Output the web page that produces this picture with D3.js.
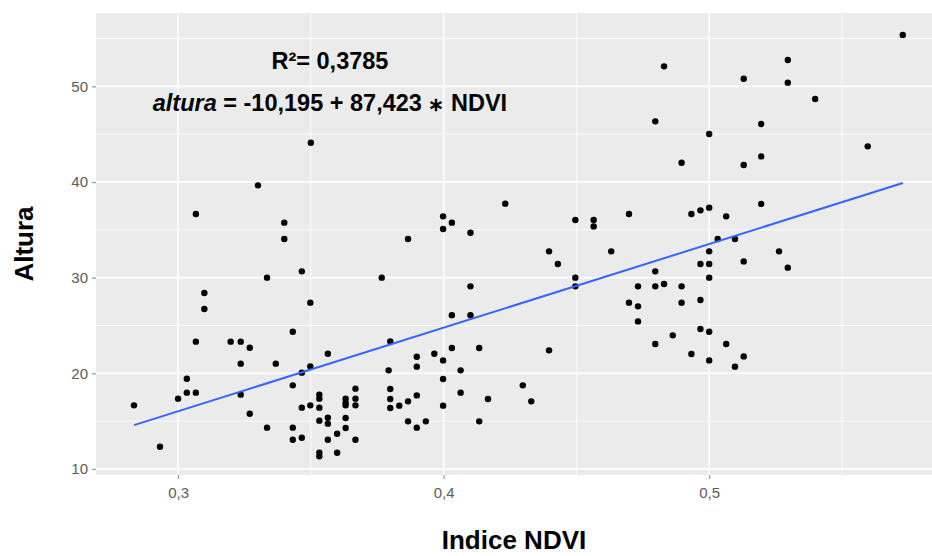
<!DOCTYPE html>
<html>
<head>
<meta charset="utf-8">
<script src="https://cdn.jsdelivr.net/npm/d3@7"></script>
<style>
  body { margin: 0; background: #fff; }
  text { font-family: 'Liberation Sans', Arial, sans-serif; }
</style>
</head>
<body>
<div id="chart"></div>
<script>
// NDVI (x) and tree height (y)
const ndvi = [
  0.2834, 0.2932, 0.3000, 0.3033, 0.3033, 0.3067, 0.3067, 0.3067, 0.3099, 0.3099,
  0.3198, 0.3236, 0.3270, 0.3236, 0.3236, 0.3270, 0.3301, 0.3335, 0.3335, 0.3368,
  0.3400, 0.3400, 0.3432, 0.3432, 0.3432, 0.3432, 0.3466, 0.3466, 0.3466, 0.3466,
  0.3500, 0.3498, 0.3498, 0.3498, 0.3532, 0.3532, 0.3532, 0.3532, 0.3532, 0.3532,
  0.3564, 0.3564, 0.3564, 0.3564, 0.3599, 0.3599, 0.3631, 0.3631, 0.3631, 0.3631,
  0.3631, 0.3668, 0.3668, 0.3668, 0.3668, 0.3793, 0.3799, 0.3799, 0.3799, 0.3799,
  0.3833, 0.3866, 0.3866, 0.3866, 0.3767, 0.3899, 0.3899, 0.3899, 0.3899, 0.3933,
  0.3965, 0.3998, 0.3998, 0.3998, 0.3998, 0.3998, 0.4031, 0.4031, 0.4031, 0.4064,
  0.4064, 0.4101, 0.4101, 0.4101, 0.4134, 0.4134, 0.4167, 0.4232, 0.4298, 0.4330,
  0.4397, 0.4397, 0.4430, 0.4496, 0.4496, 0.4496, 0.4565, 0.4565, 0.4631, 0.4698,
  0.4698, 0.4732, 0.4732, 0.4732, 0.4797, 0.4797, 0.4797, 0.4797, 0.4830, 0.4830,
  0.4863, 0.4896, 0.4896, 0.4896, 0.4933, 0.4933, 0.4967, 0.4967, 0.4967, 0.4967,
  0.5000, 0.5000, 0.5000, 0.5000, 0.5000, 0.5000, 0.5000, 0.5032, 0.5064, 0.5064,
  0.5097, 0.5097, 0.5130, 0.5130, 0.5130, 0.5130, 0.5196, 0.5196, 0.5196, 0.5263,
  0.5296, 0.5296, 0.5296, 0.5399, 0.5597, 0.5729
]
const altura = [
  16.65, 12.33, 17.35, 19.44, 17.98, 17.98, 23.31, 36.66, 28.40, 26.73,
  23.31, 23.31, 22.68, 21.01, 17.77, 15.78, 39.65, 30.00, 14.32, 21.01,
  35.75, 34.05, 24.35, 18.74, 14.32, 13.06, 30.66, 20.07, 16.41, 13.27,
  44.11, 27.39, 20.73, 16.65, 17.77, 17.35, 16.41, 15.05, 11.70, 11.32,
  22.05, 15.36, 14.74, 13.06, 13.69, 11.70, 17.35, 16.65, 15.33, 14.29,
  16.93, 18.40, 17.35, 16.65, 13.06, 20.31, 23.34, 18.36, 17.32, 16.38,
  16.62, 17.07, 14.98, 34.05, 30.00, 21.74, 20.70, 17.69, 14.32, 14.98,
  22.05, 36.41, 35.09, 21.35, 19.41, 16.62, 35.75, 26.08, 22.65, 20.31,
  17.98, 34.70, 29.09, 26.08, 22.65, 14.98, 17.32, 37.74, 18.74, 17.07,
  32.75, 22.40, 31.43, 36.03, 30.00, 29.09, 36.03, 35.36, 32.75, 36.66,
  27.39, 29.09, 27.00, 25.43, 46.34, 30.66, 29.09, 23.07, 52.09, 29.34,
  23.97, 42.02, 29.09, 27.39, 36.66, 22.02, 37.04, 31.43, 27.67, 24.64,
  45.02, 37.32, 32.75, 31.43, 30.00, 24.35, 21.35, 34.05, 36.41, 23.07,
  34.05, 20.70, 50.80, 41.78, 31.70, 21.77, 46.07, 42.68, 37.71, 32.75,
  52.76, 50.39, 31.05, 48.68, 43.73, 55.37
]

// linear fit shown in the annotation
const intercept = -10.195
const slope = 87.423

const xTicks = [0.3, 0.4, 0.5]
const xMinor = [0.25, 0.35, 0.45, 0.55]
const yTicks = [10, 20, 30, 40, 50]
const yMinor = [15, 25, 35, 45, 55]

const r2Label = 'R²= 0,3785'
const xTitle = 'Indice NDVI'
const yTitle = 'Altura'

let margin = { top: 13, left: 96, right: 0, bottom: 81 }
let width = 932 - margin.left - margin.right
let height = 556 - margin.top - margin.bottom

const svg = d3
  .select('#chart')
  .append('svg')
  .attr('width', width + margin.left + margin.right)
  .attr('height', height + margin.top + margin.bottom)

const g = svg
  .append('g')
  .attr('transform', 'translate(' + margin.left + ',' + margin.top + ')')

var xPositionScale = d3
  .scaleLinear()
  .domain([0.2691, 0.5839])
  .range([0, width])

var yPositionScale = d3
  .scaleLinear()
  .domain([9.37, 57.67])
  .range([height, 0])

const fmt = d => d3.format('.1f')(d).replace('.', ',')

// panel
g.append('rect')
  .attr('width', width)
  .attr('height', height)
  .attr('fill', '#ebebeb')

// minor grid
g.selectAll('.minor-x')
  .data(xMinor)
  .enter()
  .append('line')
  .attr('x1', d => xPositionScale(d))
  .attr('x2', d => xPositionScale(d))
  .attr('y1', 0)
  .attr('y2', height)
  .attr('stroke', '#fff')
  .attr('stroke-width', 0.8)

g.selectAll('.minor-y')
  .data(yMinor)
  .enter()
  .append('line')
  .attr('y1', d => yPositionScale(d))
  .attr('y2', d => yPositionScale(d))
  .attr('x1', 0)
  .attr('x2', width)
  .attr('stroke', '#fff')
  .attr('stroke-width', 0.8)

// major grid
g.selectAll('.major-x')
  .data(xTicks)
  .enter()
  .append('line')
  .attr('x1', d => xPositionScale(d))
  .attr('x2', d => xPositionScale(d))
  .attr('y1', 0)
  .attr('y2', height)
  .attr('stroke', '#fff')
  .attr('stroke-width', 1.6)

g.selectAll('.major-y')
  .data(yTicks)
  .enter()
  .append('line')
  .attr('y1', d => yPositionScale(d))
  .attr('y2', d => yPositionScale(d))
  .attr('x1', 0)
  .attr('x2', width)
  .attr('stroke', '#fff')
  .attr('stroke-width', 1.6)

// axes
const xAxis = d3
  .axisBottom(xPositionScale)
  .tickValues(xTicks)
  .tickFormat(fmt)
  .tickSize(4)
  .tickPadding(8)

const yAxis = d3
  .axisLeft(yPositionScale)
  .tickValues(yTicks)
  .tickSize(4)
  .tickPadding(4)

g.append('g')
  .attr('class', 'axis')
  .attr('transform', 'translate(0,' + height + ')')
  .call(xAxis)

g.append('g')
  .attr('class', 'axis')
  .call(yAxis)

g.selectAll('.axis .domain').remove()
g.selectAll('.axis line').attr('stroke', '#999').attr('stroke-width', 1.2)
g.selectAll('.axis text')
  .attr('fill', '#5c5c5c')
  .style('font-size', '15px')
  .style('font-family', "'Liberation Sans', Arial, sans-serif")

// points
g.selectAll('.tree')
  .data(ndvi.map((d, i) => ({ x: d, y: altura[i] })))
  .enter()
  .append('circle')
  .attr('class', 'tree')
  .attr('cx', d => xPositionScale(d.x))
  .attr('cy', d => yPositionScale(d.y))
  .attr('r', 3.2)
  .attr('fill', '#000')

// fitted line over the data range
const ext = d3.extent(ndvi)
const line = d3
  .line()
  .x(d => xPositionScale(d))
  .y(d => yPositionScale(intercept + slope * d))

g.append('path')
  .datum(ext)
  .attr('d', line)
  .attr('fill', 'none')
  .attr('stroke', '#3366ff')
  .attr('stroke-width', 2)

// annotation
g.append('text')
  .attr('x', xPositionScale(0.3572))
  .attr('y', yPositionScale(51.85))
  .attr('text-anchor', 'middle')
  .style('font-size', '23.5px')
  .style('font-weight', 'bold')
  .text(r2Label)

const eq = g
  .append('text')
  .attr('x', xPositionScale(0.3572))
  .attr('y', yPositionScale(47.46))
  .attr('text-anchor', 'middle')
  .style('font-size', '23.5px')
  .style('font-weight', 'bold')

eq.append('tspan').style('font-style', 'italic').text('altura')
eq.append('tspan').text(' = -10,195 + 87,423 ')
eq.append('tspan').style('font-size', '19px').text('\u2217')
eq.append('tspan').text(' NDVI')

// axis titles
svg
  .append('text')
  .attr('x', margin.left + width / 2)
  .attr('y', 549)
  .attr('text-anchor', 'middle')
  .style('font-size', '26px')
  .style('font-weight', 'bold')
  .text(xTitle)

svg
  .append('text')
  .attr('transform', 'translate(33,' + (margin.top + height / 2) + ') rotate(-90)')
  .attr('text-anchor', 'middle')
  .style('font-size', '26px')
  .style('font-weight', 'bold')
  .text(yTitle)
</script>
</body>
</html>
